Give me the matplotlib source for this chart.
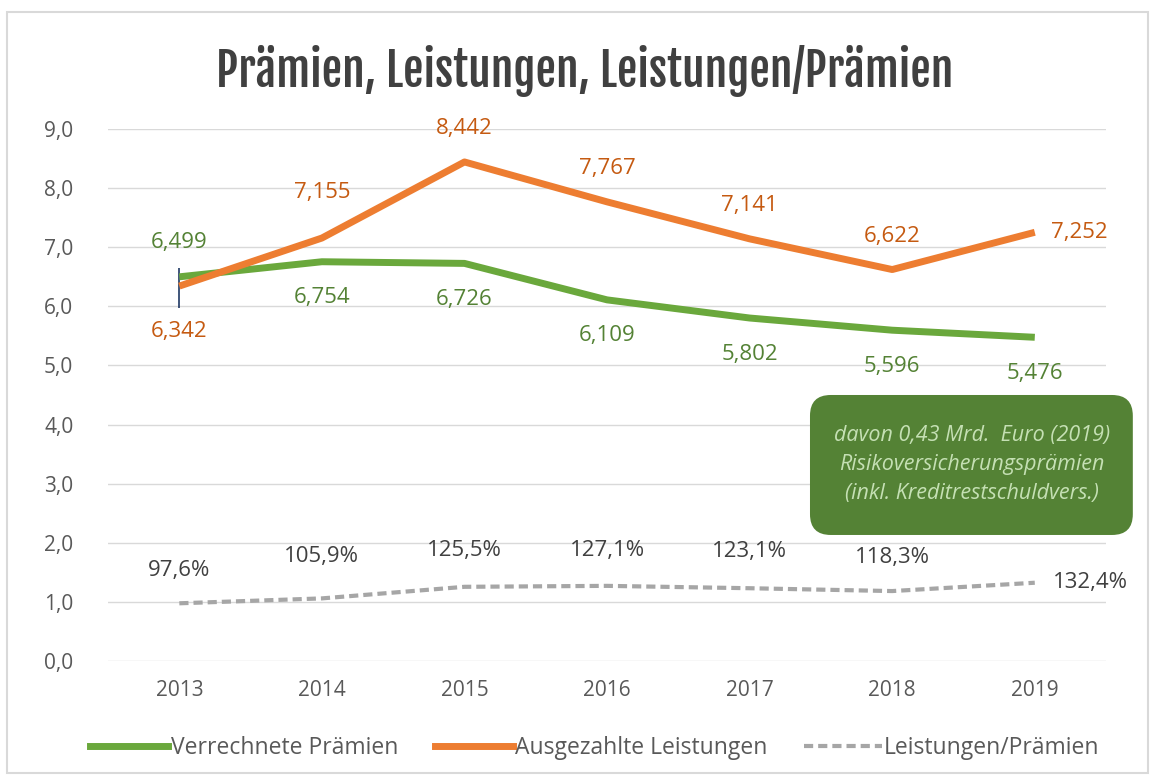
import matplotlib
matplotlib.use("Agg")
import matplotlib.pyplot as plt
from matplotlib.patches import FancyBboxPatch, Rectangle
from matplotlib.lines import Line2D
from matplotlib import font_manager

years = [2013, 2014, 2015, 2016, 2017, 2018, 2019]
praemien = [6.499, 6.754, 6.726, 6.109, 5.802, 5.596, 5.476]
leistungen = [6.342, 7.155, 8.442, 7.767, 7.141, 6.622, 7.252]
ratio = [0.976, 1.059, 1.255, 1.271, 1.231, 1.183, 1.324]
praemien_lbl = ["6,499", "6,754", "6,726", "6,109", "5,802", "5,596", "5,476"]
leistungen_lbl = ["6,342", "7,155", "8,442", "7,767", "7,141", "6,622", "7,252"]
ratio_lbl = ["97,6%", "105,9%", "125,5%", "127,1%", "123,1%", "118,3%", "132,4%"]
yticks = [0, 1, 2, 3, 4, 5, 6, 7, 8, 9]
ytick_lbl = ["0,0", "1,0", "2,0", "3,0", "4,0", "5,0", "6,0", "7,0", "8,0", "9,0"]
title = "Prämien, Leistungen, Leistungen/Prämien"
box_text = "davon 0,43 Mrd.  Euro (2019)\nRisikoversicherungsprämien\n(inkl. Kreditrestschuldvers.)"
legend_lbl = ["Verrechnete Prämien", "Ausgezahlte Leistungen", "Leistungen/Prämien"]

GREEN = "#6aa83c"
ORANGE = "#ed7d31"
GRAY = "#a6a6a6"
TXT = "#595959"
LBL_GREEN = "#548235"
LBL_ORANGE = "#c55a11"

fl = font_manager.fontManager.ttflist
names = {f.name for f in fl}
def pick(cands):
    for c in cands:
        if c in names:
            return c
    return "DejaVu Sans"
base_font = pick(["Open Sans", "Noto Sans", "DejaVu Sans"])
heavy_oswald = any(f.name == "Oswald" and (isinstance(f.weight, int) and f.weight >= 600 or f.weight in ("bold", "semibold", "demibold")) for f in fl)
if heavy_oswald:
    title_font = "Oswald"
else:
    title_font = pick(["Fjalla One", "Oswald", "Roboto Condensed"])
plt.rcParams["font.family"] = [base_font, "DejaVu Sans"]

fig = plt.figure(figsize=(11.53, 7.76), dpi=100)
fig.patch.set_facecolor("white")
fig.add_artist(Rectangle((0.006, 0.004), 0.99, 0.981, transform=fig.transFigure,
                         fill=False, edgecolor="#d9d9d9", linewidth=1.5))

ax = fig.add_axes([0.0937, 0.1482, 0.8656, 0.6856])
ax.set_xlim(2012.5, 2019.5)
ax.set_ylim(0, 9)
for s in ax.spines.values():
    s.set_visible(False)
ax.set_yticks(yticks)
ax.set_yticklabels(ytick_lbl)
ax.set_xticks(years)
ax.set_xticklabels([str(y) for y in years])
ax.tick_params(length=0, labelsize=15, colors=TXT, pad=14)
ax.tick_params(axis="y", pad=25)
ax.grid(axis="y", color="#d9d9d9", linewidth=1)
ax.set_axisbelow(True)

ax.vlines(years[0], 5.97, 6.65, color="#1f3864", linewidth=1.2, zorder=2)
ax.plot(years, praemien, color=GREEN, linewidth=5, solid_capstyle="butt", zorder=3)
ax.plot(years, leistungen, color=ORANGE, linewidth=5, solid_capstyle="butt", zorder=4)
ax.plot(years, ratio, color=GRAY, linewidth=3, dashes=(2.2, 1.2), zorder=3)

fs = 16
for i, (x, v) in enumerate(zip(years, praemien)):
    off = (0, 34) if i == 0 else (0, -36)
    ax.annotate(praemien_lbl[i], (x, v), xytext=off, textcoords="offset pixels",
                ha="center", va="center", color=LBL_GREEN, fontsize=fs)
for i, (x, v) in enumerate(zip(years, leistungen)):
    if i == 0:
        off, ha = (0, -45), "center"
    elif i == 6:
        off, ha = (16, 0), "left"
    elif i == 1:
        off, ha = (0, 46), "center"
    else:
        off, ha = (0, 33), "center"
    ax.annotate(leistungen_lbl[i], (x, v), xytext=off, textcoords="offset pixels",
                ha=ha, va="center", color=LBL_ORANGE, fontsize=fs)
ratio_off = [(0, 33), (0, 42), (0, 36), (0, 35), (0, 37), (0, 34), (18, 0)]
for i, (x, v) in enumerate(zip(years, ratio)):
    ha = "left" if i == 6 else "center"
    ax.annotate(ratio_lbl[i], (x, v), xytext=ratio_off[i], textcoords="offset pixels",
                ha=ha, va="center", color="#404040", fontsize=fs)

box = FancyBboxPatch((0.7025, 0.3106), 0.280, 0.1804, transform=fig.transFigure,
                     boxstyle="round,pad=0,rounding_size=0.018",
                     facecolor="#548235", edgecolor="none", zorder=5,
                     mutation_aspect=1153/776)
fig.add_artist(box)
fig.text(0.843, 0.401, box_text, ha="center", va="center", color="#c5e0b4",
         fontsize=15.5, style="italic", linespacing=1.5, zorder=6)

fig.text(0.507, 0.908, title, ha="center", va="center", fontsize=33,
         fontweight="bold", color="#404040", family=[title_font, "DejaVu Sans"])

handles = [Line2D([], [], color=GREEN, linewidth=5),
           Line2D([], [], color=ORANGE, linewidth=5),
           Line2D([], [], color=GRAY, linewidth=3, dashes=(2.2, 1.2))]
fig.legend(handles, legend_lbl,
           loc="center", bbox_to_anchor=(0.516, 0.036), ncol=3, frameon=False,
           fontsize=16.5, handlelength=3.4, columnspacing=1.6, handletextpad=0.1,
           labelcolor=TXT)

fig.savefig("out.png", dpi=100)
